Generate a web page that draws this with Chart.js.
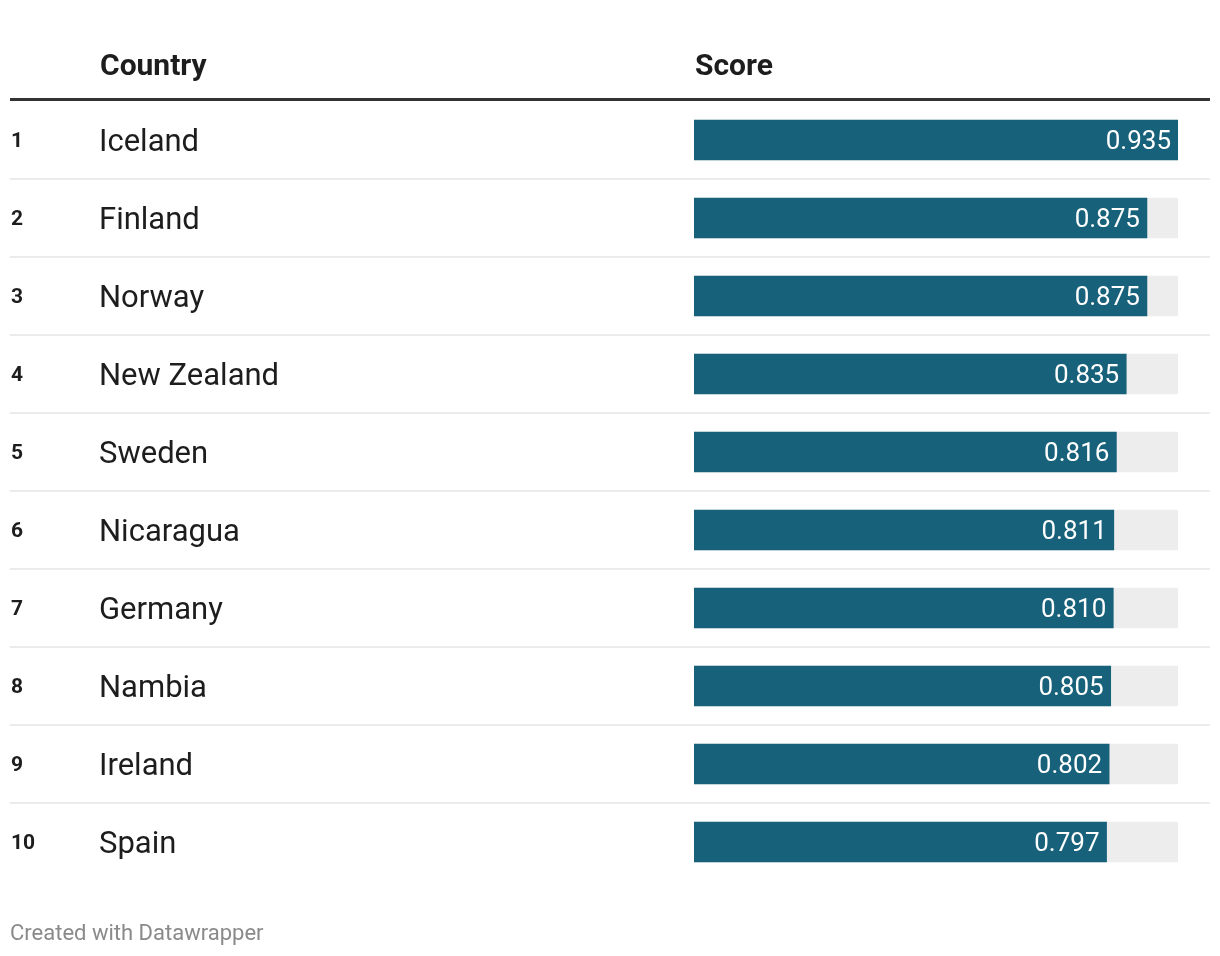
<!DOCTYPE html>
<html>
<head>
<meta charset="utf-8">
<script src="https://cdn.jsdelivr.net/npm/chart.js@4"></script>
<style>
  html, body { margin: 0; padding: 0; background: #fff; }
  #wrap { width: 1220px; height: 956px; position: relative; }
</style>
</head>
<body>
<div id="wrap"><canvas id="scoreChart" width="1220" height="956"></canvas></div>
<script>
var ranks = ["1", "2", "3", "4", "5", "6", "7", "8", "9", "10"];
var countries = ["Iceland", "Finland", "Norway", "New Zealand", "Sweden", "Nicaragua", "Germany", "Nambia", "Ireland", "Spain"];
var scores = [0.935, 0.875, 0.875, 0.835, 0.816, 0.811, 0.810, 0.805, 0.802, 0.797];
var scoreMax = 0.935;
var headers = ["Country", "Score"];
var footerText = "Created with Datawrapper";

var FONT = "Roboto, 'Noto Sans', sans-serif";

// draws the table around the bars: header, row lines, ranks, names, labels
var tablePlugin = {
  id: "table",
  beforeDatasetsDraw: function(chart) {
    var ctx = chart.ctx;
    var yScale = chart.scales.y;
    ctx.save();

    // header
    ctx.fillStyle = "#1d1d1d";
    ctx.font = "bold 30px " + FONT;
    ctx.textBaseline = "alphabetic";
    ctx.fillText(headers[0], 100, 75);
    ctx.fillText(headers[1], 695, 75);
    ctx.fillStyle = "#333333";
    ctx.fillRect(10, 98, 1200, 3);

    // row separators
    ctx.fillStyle = "#ebebeb";
    for (var i = 0; i < countries.length - 1; i++) {
      var mid = (yScale.getPixelForValue(i) + yScale.getPixelForValue(i + 1)) / 2;
      ctx.fillRect(10, Math.round(mid) - 1, 1200, 2);
    }

    // ranks and names
    for (var j = 0; j < countries.length; j++) {
      var cy = yScale.getPixelForValue(j);
      ctx.fillStyle = "#1d1d1d";
      ctx.font = "bold 21px " + FONT;
      ctx.fillText(ranks[j], 11, cy + 7);
      ctx.font = "31px " + FONT;
      ctx.fillText(countries[j], 99, cy + 11);
    }

    // footer
    ctx.fillStyle = "#8a8a8a";
    ctx.font = "22px " + FONT;
    ctx.fillText(footerText, 10, 940);
    ctx.restore();
  },
  afterDatasetsDraw: function(chart) {
    var ctx = chart.ctx;
    var meta = chart.getDatasetMeta(0);
    ctx.save();
    ctx.fillStyle = "#ffffff";
    ctx.font = "26px " + FONT;
    ctx.textAlign = "right";
    ctx.textBaseline = "alphabetic";
    meta.data.forEach(function(bar, k) {
      ctx.fillText(scores[k].toFixed(3), bar.x - 7, bar.y + 9);
    });
    ctx.restore();
  }
};

new Chart(document.getElementById("scoreChart"), {
  type: "bar",
  data: {
    labels: countries,
    datasets: [
      {
        data: scores,
        backgroundColor: "#17617a",
        barThickness: 40,
        grouped: false
      },
      {
        data: countries.map(function() { return scoreMax; }),
        backgroundColor: "#ededed",
        barThickness: 40,
        grouped: false
      }
    ]
  },
  options: {
    indexAxis: "y",
    responsive: false,
    animation: false,
    events: [],
    layout: {
      padding: { left: 694, right: 42, top: 101, bottom: 75 }
    },
    scales: {
      x: { display: false, min: 0, max: scoreMax },
      y: { display: false, offset: true }
    },
    plugins: {
      legend: { display: false },
      tooltip: { enabled: false }
    }
  },
  plugins: [tablePlugin]
});
</script>
</body>
</html>
